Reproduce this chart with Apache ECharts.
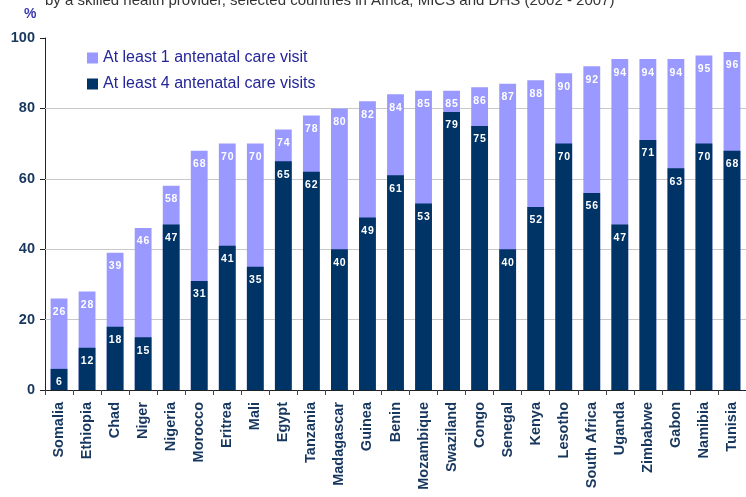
<!DOCTYPE html>
<html>
<head>
<meta charset="utf-8">
<script src="https://cdn.jsdelivr.net/npm/echarts@6/dist/echarts.min.js"></script>
<style>html,body{margin:0;padding:0;background:#fff;}#c{width:746px;height:497px;}</style>
</head>
<body>
<div id="c"></div>
<script>
const countries = ["Somalia","Ethiopia","Chad","Niger","Nigeria","Morocco","Eritrea","Mali","Egypt","Tanzania","Madagascar","Guinea","Benin","Mozambique","Swaziland","Congo","Senegal","Kenya","Lesotho","South Africa","Uganda","Zimbabwe","Gabon","Namibia","Tunisia"];
const atLeast1 = [26,28,39,46,58,68,70,70,74,78,80,82,84,85,85,86,87,88,90,92,94,94,94,95,96];
const atLeast4 = [6,12,18,15,47,31,41,35,65,62,40,49,61,53,79,75,40,52,70,56,47,71,63,70,68];
const gridValues = [20,40,60,80];
const yTicks = {min:0, max:100, interval:20};
const titleText = "by a skilled health provider, selected countries in Africa, MICS and DHS (2002 - 2007)";
const name1 = "At least 1 antenatal care visit";
const name4 = "At least 4 antenatal care visits";

const navy = "#17375E";
const chart = echarts.init(document.getElementById('c'));
const labelStyle = {show:true, position:'insideTop', color:'#fff', fontFamily:'Liberation Sans, Arial', fontWeight:'bold', fontSize:10.5, distance:8,
  formatter: p => String(p.value).split('').join('\u200A')};
chart.setOption({
  animation:false,
  title:{text:titleText, left:40, top:-12, textStyle:{fontFamily:'Liberation Sans, Arial', fontWeight:'normal', fontSize:15, color:'#333'}},
  graphic:[{type:'text', left:24, top:7, style:{text:'%', fill:'#3a3ab0', font:'bold 14px Liberation Sans, Arial'}}],
  legend:{orient:'vertical', left:82, top:45, itemWidth:11, itemHeight:11, itemGap:10, icon:'rect',
    textStyle:{fontFamily:'Liberation Sans, Arial', fontSize:16, color:'#25259a'},
    data:[name1, name4]},
  grid:{left:45, right:-6, top:38, bottom:107, containLabel:false},
  xAxis:{type:'category', data:countries,
    axisLine:{lineStyle:{color:'#222', width:1}},
    axisTick:{show:true, length:5, lineStyle:{color:'#444'}},
    axisLabel:{rotate:90, interval:0, margin:12, color:navy, fontFamily:'Liberation Sans, Arial', fontWeight:'bold', fontSize:14.5}},
  yAxis:{type:'value', min:yTicks.min, max:yTicks.max, interval:yTicks.interval,
    axisLine:{show:true, lineStyle:{color:'#222'}},
    axisTick:{show:true, length:5, lineStyle:{color:'#222'}},
    splitLine:{show:false},
    axisLabel:{margin:10, color:navy, fontFamily:'Liberation Sans, Arial', fontWeight:'bold', fontSize:14.5}},
  series:[
    {name:name1, type:'bar', data:atLeast1, barWidth:'60%', barGap:'-100%', itemStyle:{color:'#9999FF'}, label:labelStyle, z:2,
      markLine:{silent:true, symbol:'none', z:1, label:{show:false}, lineStyle:{color:'#c8c8c8', type:'solid', width:1},
        data:gridValues.map(v=>({yAxis:v}))}},
    {name:name4, type:'bar', data:atLeast4, barWidth:'60%', barGap:'-100%', itemStyle:{color:'#003366'}, label:labelStyle, z:3}
  ]
});
</script>
</body>
</html>
